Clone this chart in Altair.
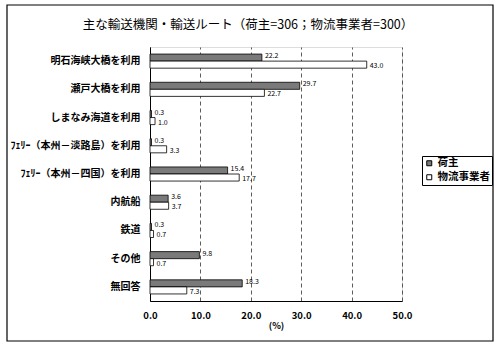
import altair as alt
import pandas as pd

categories = ["明石海峡大橋を利用", "瀬戸大橋を利用", "しまなみ海道を利用",
              "ﾌｪﾘｰ（本州－淡路島）を利用", "ﾌｪﾘｰ（本州－四国）を利用",
              "内航船", "鉄道", "その他", "無回答"]
shipper = [22.2, 29.7, 0.3, 0.3, 15.4, 3.6, 0.3, 9.8, 18.3]
logistics = [43.0, 22.7, 1.0, 3.3, 17.7, 3.7, 0.7, 0.7, 7.3]
series = ["荷主", "物流事業者"]
x_ticks = [0, 10, 20, 30, 40, 50]
title_text = "主な輸送機関・輸送ルート（荷主=306；物流事業者=300）"

rows = []
for c, a, b in zip(categories, shipper, logistics):
    rows.append({"cat": c, "series": series[0], "v": a})
    rows.append({"cat": c, "series": series[1], "v": b})
df = pd.DataFrame(rows)

FONT = "Noto Sans CJK JP"

y_enc = alt.Y("cat:N", sort=categories, title=None,
              scale=alt.Scale(paddingInner=0.5, paddingOuter=0.25),
              axis=alt.Axis(labelFontSize=10, labelColor="black", labelFont=FONT,
                            labelFontWeight="bold",
                            labelPadding=10, ticks=False, domainColor="black",
                            domainWidth=1))
yoff = alt.YOffset("series:N", sort=series, scale=alt.Scale(paddingInner=0))
x_enc = alt.X("v:Q", title="(%)",
              scale=alt.Scale(domain=[0, 50], nice=False),
              axis=alt.Axis(values=x_ticks, format=".1f", labelFontSize=9.5,
                            labelFont=FONT, labelColor="black", labelPadding=9,
                            labelFontWeight="bold",
                            ticks=False, domainColor="black", domainWidth=1,
                            grid=True, gridColor="#333", gridDash=[4, 3],
                            gridWidth=0.8, titleFontSize=9, titleFont=FONT,
                            titleFontWeight="bold", titlePadding=2,
                            labelFlush=False))

bars = alt.Chart(df).mark_bar(stroke="black", strokeWidth=0.8).encode(
    y=y_enc, yOffset=yoff, x=x_enc,
    fill=alt.Fill("series:N", sort=series,
                  scale=alt.Scale(domain=series, range=["#7a7a7a", "white"]),
                  legend=alt.Legend(title=None, orient="none", legendX=272,
                                    legendY=109, strokeColor="black",
                                    padding=2, symbolType="square",
                                    symbolSize=25, symbolStrokeColor="black",
                                    symbolStrokeWidth=1, labelFontSize=10.5,
                                    labelFont=FONT, labelFontWeight="bold",
                                    labelColor="black", rowPadding=3,
                                    labelOffset=3, fillColor="white")),
)

label_enc = dict(y=alt.Y("cat:N", sort=categories), yOffset=yoff, x="v:Q",
                 text=alt.Text("v:Q", format=".1f"))

labels_a = alt.Chart(df).transform_filter(
    alt.datum.series == series[0]).mark_text(
    align="left", baseline="middle", dx=3, dy=-1.5, fontSize=7, font=FONT,
    color="black").encode(**label_enc)

labels_b = alt.Chart(df).transform_filter(
    alt.datum.series == series[1]).mark_text(
    align="left", baseline="middle", dx=3, dy=1.5, fontSize=7, font=FONT,
    color="black").encode(**label_enc)

frame = alt.Chart(pd.DataFrame({"a": [0]})).mark_rect(
    fill=None, stroke="black", strokeWidth=1.2).encode(
    x=alt.value(-143), x2=alt.value(343), y=alt.value(-42), y2=alt.value(294))

title = alt.Chart(pd.DataFrame({"t": [title_text]})).mark_text(
    fontSize=12.5, font=FONT, color="black", align="center",
    baseline="middle").encode(
    text="t:N", x=alt.value(98), y=alt.value(-22))

chart = alt.layer(frame, title, bars, labels_a, labels_b).properties(
    width=252, height=254,
    autosize=alt.AutoSizeParams(type="none"),
    padding={"left": 150, "top": 47, "right": 98, "bottom": 52},
).configure_view(stroke="black", strokeDash=[1, 2], strokeWidth=1
).configure(background="white")

chart.save("out.html", embed_options={"renderer": "svg", "actions": False})
